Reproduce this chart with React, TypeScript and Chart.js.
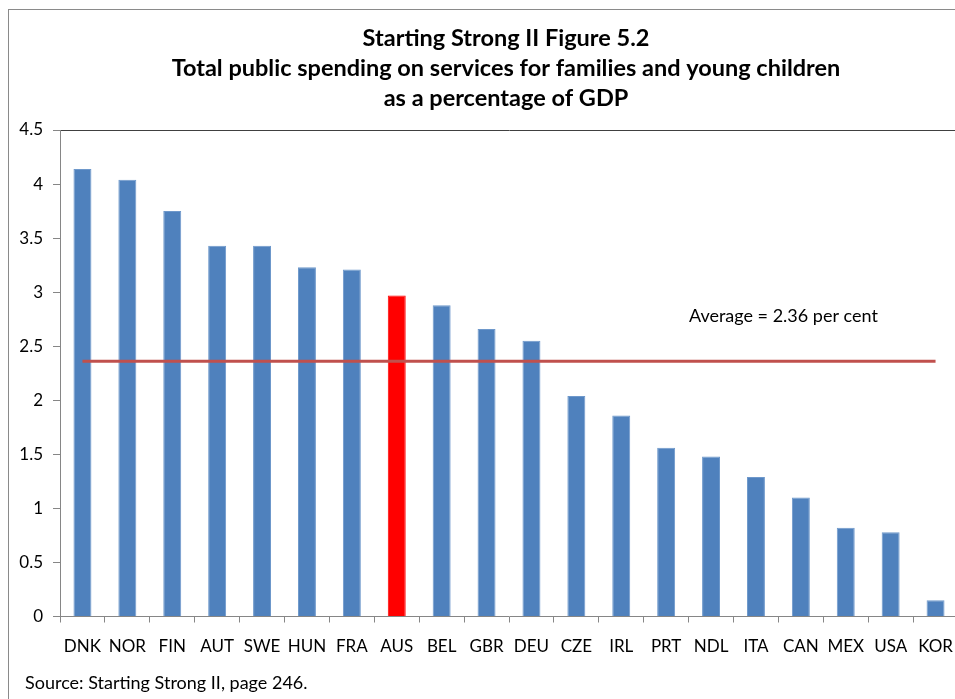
import React, { useEffect, useRef } from "react";
import { Chart, registerables } from "chart.js";

Chart.register(...registerables);

const titleLines = [
  "Starting Strong II Figure 5.2",
  "Total public spending on services for families and young children",
  "as a percentage of GDP",
];
const categories = ["DNK", "NOR", "FIN", "AUT", "SWE", "HUN", "FRA", "AUS", "BEL", "GBR", "DEU", "CZE", "IRL", "PRT", "NDL", "ITA", "CAN", "MEX", "USA", "KOR"];
const spending = [4.14, 4.04, 3.75, 3.43, 3.43, 3.23, 3.21, 2.97, 2.88, 2.66, 2.55, 2.04, 1.86, 1.56, 1.48, 1.29, 1.1, 0.82, 0.78, 0.15];
const highlighted = "AUS";
const averageValue = 2.36;
const averageLabel = "Average = 2.36 per cent";
const sourceNote = "Source: Starting Strong II, page 246.";
const yMin = 0;
const yMax = 4.5;
const yStep = 0.5;

const FONT = "Lato, 'Open Sans', sans-serif";

export default function App() {
  const ref = useRef<HTMLCanvasElement | null>(null);

  useEffect(() => {
    const canvas = ref.current;
    if (!canvas) return;
    const textPlugin = {
      id: "texts",
      afterDraw(chart: any) {
        const ctx = chart.ctx;
        const xs = chart.scales.x;
        const ys = chart.scales.y;
        ctx.save();
        ctx.fillStyle = "#000";
        ctx.textBaseline = "middle";
        ctx.textAlign = "center";
        ctx.font = `bold 23.5px ${FONT}`;
        const cx = chart.width / 2;
        titleLines.forEach((t, i) => ctx.fillText(t, cx, 28 + i * 30));
        ctx.font = `18px ${FONT}`;
        const ax = (xs.getPixelForValue(15) + xs.getPixelForValue(16)) / 2 + 5;
        ctx.fillText(averageLabel, ax, ys.getPixelForValue(2.78));
        ctx.textAlign = "left";
        ctx.fillText(sourceNote, 16, 673);
        ctx.restore();
      },
    };
    const chart = new Chart(canvas, {
      type: "bar",
      data: {
        labels: categories,
        datasets: [
          {
            type: "line",
            data: categories.map(() => averageValue),
            borderColor: "#C0504D",
            borderWidth: 3,
            pointRadius: 0,
            fill: false,
            order: 0,
          } as any,
          {
            type: "bar",
            data: spending,
            backgroundColor: categories.map((c) => (c === highlighted ? "#FF0000" : "#4F81BD")),
            borderColor: categories.map((c) => (c === highlighted ? "#FF0000" : "#6E98CB")),
            borderWidth: 1,
            categoryPercentage: 1,
            barPercentage: 0.4,
            order: 1,
          },
        ],
      },
      options: {
        responsive: false,
        animation: false,
        devicePixelRatio: 1,
        layout: { padding: { top: 120, right: 45, bottom: 0, left: 0 } },
        plugins: {
          legend: { display: false },
          title: { display: false },
          tooltip: { enabled: false },
        },
        scales: {
          x: {
            offset: true,
            afterFit(s: any) {
              s.height = 83.5;
            },
            grid: {
              display: true,
              offset: true,
              drawOnChartArea: false,
              tickLength: 6,
              color: "#868686",
            },
            border: { color: "#868686", width: 1 },
            ticks: {
              color: "#000",
              font: { family: FONT, size: 17 },
              padding: 14,
              maxRotation: 0,
              autoSkip: false,
            },
          },
          y: {
            min: yMin,
            max: yMax,
            afterFit(s: any) {
              s.width = 51;
            },
            grid: {
              display: true,
              drawOnChartArea: true,
              tickLength: 7,
              color: (c: any) => (c.tick && c.tick.value === yMax ? "#404040" : "rgba(0,0,0,0)"),
              tickColor: "#868686",
            },
            border: { color: "#868686", width: 1 },
            ticks: {
              stepSize: yStep,
              color: "#000",
              font: { family: FONT, size: 17 },
              padding: 10,
              callback: (v: any) => String(Number(v)),
            },
          },
        },
      },
      plugins: [textPlugin],
    } as any);
    return () => chart.destroy();
  }, []);

  return (
    <div style={{ position: "fixed", left: 0, top: 0, width: 955, height: 699, overflow: "hidden", background: "#fff" }}>
      <div
        style={{
          position: "absolute",
          left: 8,
          top: 9,
          width: 995,
          height: 691,
          borderLeft: "1px solid #8a8a8a",
          borderTop: "1px solid #8a8a8a",
          boxSizing: "border-box",
        }}
      >
        <canvas ref={ref} width={994} height={690} style={{ display: "block", width: 994, height: 690 }} />
      </div>
    </div>
  );
}
